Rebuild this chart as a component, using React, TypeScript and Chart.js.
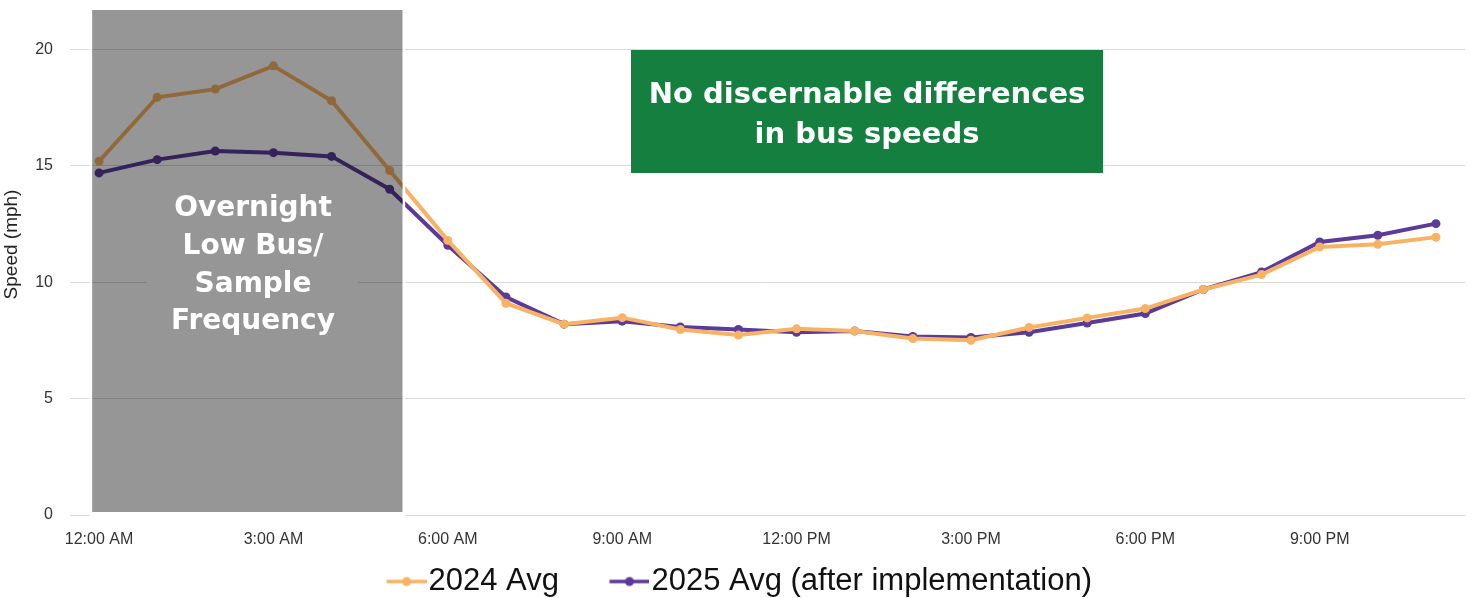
import React, { useEffect, useRef } from 'react';
import { Chart, registerables } from 'chart.js';

Chart.register(...registerables);

const hourLabels = [
  '12:00 AM', '1:00 AM', '2:00 AM', '3:00 AM', '4:00 AM', '5:00 AM',
  '6:00 AM', '7:00 AM', '8:00 AM', '9:00 AM', '10:00 AM', '11:00 AM',
  '12:00 PM', '1:00 PM', '2:00 PM', '3:00 PM', '4:00 PM', '5:00 PM',
  '6:00 PM', '7:00 PM', '8:00 PM', '9:00 PM', '10:00 PM', '11:00 PM',
];

const speed2024 = [
  15.2, 17.95, 18.3, 19.3, 17.8, 14.8, 11.8, 9.1, 8.2, 8.48, 7.97, 7.73,
  8.0, 7.91, 7.58, 7.51, 8.06, 8.47, 8.87, 9.69, 10.33, 11.52, 11.63, 11.94,
];

const speed2025 = [
  14.7, 15.27, 15.64, 15.57, 15.41, 14.0, 11.59, 9.37, 8.2, 8.33, 8.08, 7.97,
  7.85, 7.91, 7.67, 7.63, 7.85, 8.25, 8.66, 9.69, 10.44, 11.73, 12.02, 12.52,
];

const seriesNames = ['2024 Avg', '2025 Avg (after implementation)'];
const seriesColors = ['#f7b264', '#5b3a9a'];

const yAxisTitle = 'Speed (mph)';
const overnightNote = ['Overnight', 'Low Bus/', 'Sample', 'Frequency'];
const headlineNote = ['No discernable differences', 'in bus speeds'];

const LEGEND_BOX = 60;

function makeLegendMarker(color: string): HTMLCanvasElement {
  // image is centered on the legend box; the visible line sits in its right 40px
  const w = LEGEND_BOX + 27;
  const c = document.createElement('canvas');
  c.width = w;
  c.height = 12;
  const g = c.getContext('2d')!;
  g.strokeStyle = color;
  g.lineWidth = 3.5;
  g.beginPath();
  g.moveTo(w - 40, 6);
  g.lineTo(w, 6);
  g.stroke();
  g.fillStyle = color;
  g.beginPath();
  g.arc(w - 20, 6, 4.5, 0, Math.PI * 2);
  g.fill();
  return c;
}

const annotationPlugin = {
  id: 'annotations',
  afterDatasetsDraw(chart: any) {
    const { ctx, chartArea, scales } = chart;
    const x = scales.x;
    const y = scales.y;
    const left = x.getPixelForValue(0) - 7;
    const right = x.getPixelForValue(5) + 13;
    const top = chartArea.top;
    const bottom = y.getPixelForValue(0) - 3;
    ctx.save();
    // overnight shaded region
    ctx.fillStyle = 'rgba(0,0,0,0.41)';
    ctx.fillRect(left, top, right - left, bottom - top);
    ctx.fillStyle = '#ffffff';
    ctx.fillRect(left - 2.5, top, 2.5, bottom - top + 5);
    ctx.fillRect(right, top, 2.5, bottom - top + 5);
    ctx.fillRect(left - 2.5, bottom, right - left + 5, 5);
    // overnight note
    ctx.fillStyle = '#969696';
    ctx.fillRect(147, 180, 211, 168);
    ctx.fillStyle = '#ffffff';
    ctx.font = 'bold 28px "DejaVu Sans"';
    ctx.textAlign = 'center';
    ctx.textBaseline = 'alphabetic';
    const baselines = [216, 254, 292, 329];
    overnightNote.forEach((t, i) => ctx.fillText(t, 253, baselines[i]));
    // headline box
    ctx.fillStyle = '#147f3f';
    ctx.fillRect(631, 50, 472, 123);
    ctx.fillStyle = '#ffffff';
    ctx.font = 'bold 29px "DejaVu Sans"';
    ctx.fillText(headlineNote[0], 867, 103);
    ctx.fillText(headlineNote[1], 867, 143);
    // y axis title
    ctx.translate(12, (chartArea.top + chartArea.bottom) / 2 - 18);
    ctx.rotate(-Math.PI / 2);
    ctx.fillStyle = '#222222';
    ctx.font = '19px "Liberation Sans", Arial, sans-serif';
    ctx.textAlign = 'center';
    ctx.textBaseline = 'middle';
    ctx.fillText(yAxisTitle, 0, 0);
    ctx.restore();
  },
};

export default function App() {
  const canvasRef = useRef<HTMLCanvasElement | null>(null);

  useEffect(() => {
    if (!canvasRef.current) return;
    Chart.defaults.font.family = '"Liberation Sans", Arial, sans-serif';
    const markers = seriesColors.map((c) => makeLegendMarker(c));

    const chart = new Chart(canvasRef.current, {
      type: 'line',
      data: {
        labels: hourLabels,
        datasets: [
          {
            label: seriesNames[0],
            data: speed2024,
            borderColor: seriesColors[0],
            backgroundColor: seriesColors[0],
            borderWidth: 4,
            pointRadius: 4.5,
            pointBorderWidth: 0,
            tension: 0,
          },
          {
            label: seriesNames[1],
            data: speed2025,
            borderColor: seriesColors[1],
            backgroundColor: seriesColors[1],
            borderWidth: 4,
            pointRadius: 4.5,
            pointBorderWidth: 0,
            tension: 0,
          },
        ],
      },
      options: {
        responsive: false,
        animation: false,
        layout: { padding: { top: 10, right: 8, left: -20, bottom: 0 } },
        scales: {
          x: {
            offset: true,
            grid: { display: false },
            border: { display: false },
            afterFit: (scale: any) => {
              scale.height = 34;
            },
            ticks: {
              autoSkip: false,
              maxRotation: 0,
              padding: 7,
              color: '#333333',
              font: { size: 16 },
              callback: (_v: any, i: number) => (i % 3 === 0 ? hourLabels[i] : ''),
            },
          },
          y: {
            min: 0,
            max: 21.7,
            grid: { color: '#d9d9d9', drawTicks: false, lineWidth: 1 },
            border: { display: false },
            afterFit: (scale: any) => {
              scale.width = 90;
              scale.paddingTop = 0;
              scale.paddingBottom = 0;
            },
            title: { display: false, text: yAxisTitle },
            ticks: {
              stepSize: 5,
              includeBounds: false,
              padding: 17,
              color: '#333333',
              font: { size: 16 },
            },
          },
        },
        plugins: {
          tooltip: { enabled: false },
          legend: {
            position: 'bottom',
            labels: {
              usePointStyle: true,
              pointStyleWidth: LEGEND_BOX,
              padding: 17,
              color: '#111111',
              font: { size: 31 },
              generateLabels: (ch: any) => {
                const base = Chart.defaults.plugins.legend.labels.generateLabels(ch);
                return base.map((item: any, i: number) => ({
                  ...item,
                  pointStyle: markers[i],
                }));
              },
            },
          },
        },
      },
      plugins: [annotationPlugin],
    } as any);

    return () => chart.destroy();
  }, []);

  return (
    <div style={{ position: 'fixed', left: 0, top: 0, width: 1473, height: 607, background: '#ffffff' }}>
      <canvas ref={canvasRef} width={1473} height={607} style={{ display: 'block' }} />
    </div>
  );
}
